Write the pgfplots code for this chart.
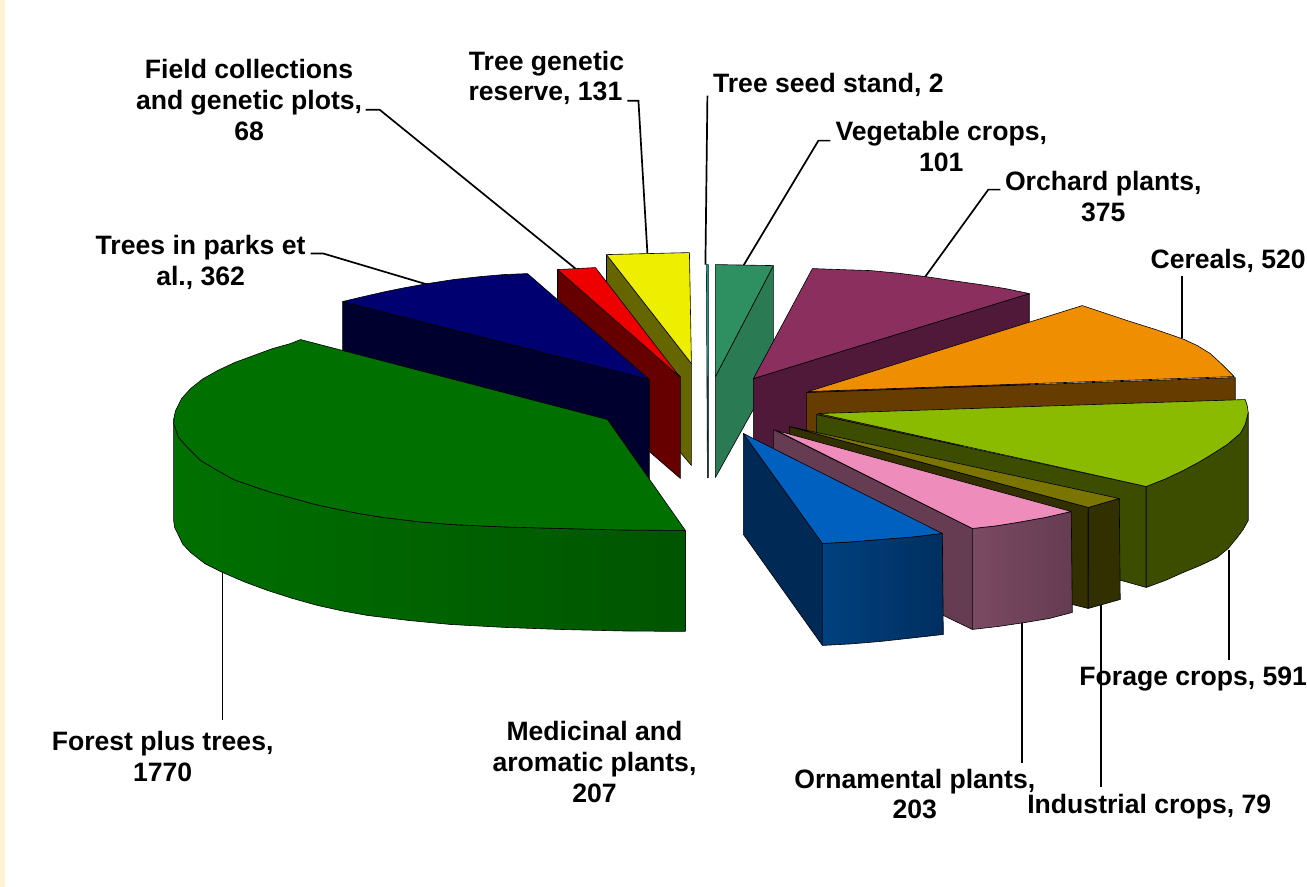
\documentclass[border=0pt]{standalone}
\usepackage{fontspec}
\setmainfont{Liberation Sans}
\usepackage{pgfplots}
\pgfplotsset{compat=1.18}
\definecolor{cream}{HTML}{FFF3D6}
\definecolor{gtop}{HTML}{007000}
\definecolor{gmid}{HTML}{006C00}
\definecolor{gdark}{HTML}{005500}
\definecolor{ntop}{HTML}{000070}
\definecolor{nside}{HTML}{00002E}
\definecolor{rtop}{HTML}{EE0000}
\definecolor{rside}{HTML}{660000}
\definecolor{ytop}{HTML}{EEEE00}
\definecolor{yside}{HTML}{666600}
\definecolor{stop}{HTML}{1F8F8F}
\definecolor{sside}{HTML}{1A5A5A}
\definecolor{vtop}{HTML}{2E9060}
\definecolor{vside}{HTML}{2A7A54}
\definecolor{ptop}{HTML}{8B2F5F}
\definecolor{pside}{HTML}{50193A}
\definecolor{otop}{HTML}{EE8E00}
\definecolor{oside}{HTML}{663C00}
\definecolor{ltop}{HTML}{8ABB00}
\definecolor{lside}{HTML}{3C4D00}
\definecolor{itop}{HTML}{7A7400}
\definecolor{iside}{HTML}{333000}
\definecolor{ktop}{HTML}{EE8CBC}
\definecolor{kside}{HTML}{663C52}
\definecolor{kleft}{HTML}{7A4A62}
\definecolor{btop}{HTML}{0060C0}
\definecolor{bside}{HTML}{002A55}
\definecolor{bleft}{HTML}{00417F}
\definecolor{bright}{HTML}{002F5F}
\tikzset{face/.style={draw=black,line width=0.3pt,line join=round},
 lead/.style={draw=black,line width=0.85pt},
 lab/.style={font=\fontsize{13.3}{15.25}\selectfont\bfseries,anchor=base,inner sep=0pt}}
\begin{document}
\begin{tikzpicture}
\begin{axis}[scale only axis,width=653.5pt,height=443.5pt,xmin=-0.7,xmax=1306.3,ymin=-0.7,ymax=886.3,y dir=reverse,axis lines=none,clip=false]
\addplot[fill=white,draw=none] coordinates {(-0.7,-0.7)(1306.3,-0.7)(1306.3,886.3)(-0.7,886.3)} -- cycle;
\addplot[fill=cream,draw=none] coordinates {(-0.7,-0.7)(4,-0.7)(4,886.3)(-0.7,886.3)} -- cycle;
% leaders
\addplot[lead] coordinates {(222,572)(222,720)};
\addplot[lead] coordinates {(1022,622)(1022,763)};
\addplot[lead] coordinates {(1101,601)(1101,787)};
\addplot[lead] coordinates {(1229,550)(1229,660)};
\addplot[lead] coordinates {(1182,275)(1182,337)};
\addplot[lead] coordinates {(1000,189)(988,189)(925,276)};
\addplot[lead] coordinates {(830,140)(818,140)(743,265)};
\addplot[lead] coordinates {(707,95)(705,264)};
\addplot[lead] coordinates {(627,100)(638,100)(647,253)};
\addplot[lead] coordinates {(365,109)(379,109)(575,268)};
\addplot[lead] coordinates {(310,253)(323,253)(427,284)};
% yellow
\addplot[face,fill=yside] coordinates {(606,254)(691,363)(691,465)(680,452)(606,357)} -- cycle;
\addplot[face,fill=ytop] coordinates {(606,254)(689,252)(691,363)} -- cycle;
% red
\addplot[face,fill=rside] coordinates {(557,269)(680,376)(680,478)(650,452)(557,372)} -- cycle;
\addplot[face,fill=rtop] coordinates {(557,269)(595,267)(679,376)} -- cycle;
% navy
\addplot[face,fill=nside] coordinates {(342,301)(649,379)(649,482)(600,440)(342,360)} -- cycle;
\addplot[face,fill=ntop] coordinates {(342,301)(363,296)(385,291)(405,287)(427,283)(453,279)(480,276)(503,274)(527,273)(649,379)} -- cycle;
% forest
\addplot[face,left color=gtop,middle color=gmid,right color=gdark] coordinates {(173,418)(173,520)(174,527)(177,533)(182,543.5)(190,552)(204,563)(222,572)(244,581.5)(267,590)(292,598)(317,605)(342,610.5)(367,615)(408,620)(450,624)(505,627)(560,629)(622,630.5)(685,631)(685,530)(622,529.5)(560,528)(505,526.5)(450,524)(416,521)(383,517)(358,513)(333,508)(313,503.5)(293,498)(271,492)(250,485)(233,479)(217,470)(200,460)(187,447)(178,437)(173,423)} -- cycle;
\addplot[face,fill=gtop] coordinates {(607,419)(300,339)(290,343)(272,348)(253,355)(234,362)(217,370)(202,378.5)(190,388)(181,398)(175,410)(173.5,416)(173,423)(178,437)(187,447)(200,460)(217,470)(233,479)(250,485)(271,492)(293,498)(313,503.5)(333,508)(358,513)(383,517)(416,521)(450,524)(505,526.5)(560,528)(622,529.5)(685,530)} -- cycle;
% seed stand
\addplot[face,fill=sside] coordinates {(706,264)(708,264)(708,477)(707,477)} -- cycle;
\addplot[draw=none,fill=stop] coordinates {(706,264)(708,264)(708,375)(707,375)} -- cycle;
% vegetable
\addplot[face,fill=vside] coordinates {(773,265)(715,376)(715,477)(773,373)} -- cycle;
\addplot[face,fill=vtop] coordinates {(715,264)(773,265)(715,376)} -- cycle;
% purple
\addplot[face,fill=pside] coordinates {(753,378)(1029,293)(1029,395)(753,480)} -- cycle;
\addplot[face,fill=ptop] coordinates {(753,378)(812,268)(840,269)(870,270)(897,272.5)(925,276)(952,280)(980,284)(1005,288)(1029,293)} -- cycle;
% orange
\addplot[face,fill=oside] coordinates {(806,392)(1235,377)(1235,400)(806,470)} -- cycle;
\addplot[face,fill=otop] coordinates {(808,391)(1082,305)(1106,313)(1130,321)(1157,329.5)(1183,338.5)(1197,345)(1210,353)(1222,364)(1234,376)} -- cycle;
% lime
\addplot[face,fill=lside] coordinates {(816,414)(1146,486)(1146,587)(1121,580)(816,515)} -- cycle;
\addplot[face,fill=lside] coordinates {(1146,486)(1146,587)(1165,580)(1183,572)(1200,565)(1217,557)(1228,548)(1237,537)(1243,529)(1248,520)(1248,412)(1245,424)(1240,433)(1227,444)(1213,453)(1198,462)(1183,470)(1165,478.5)} -- cycle;
\addplot[face,fill=ltop] coordinates {(818,413)(1245,399)(1247,405)(1248,412)(1245,424)(1240,433)(1227,444)(1213,453)(1198,462)(1183,470)(1165,478.5)(1146,486)} -- cycle;
% industrial
\addplot[face,fill=iside] coordinates {(789,426)(1088,507)(1088,608)(1072,604)(789,527)} -- cycle;
\addplot[face,fill=iside] coordinates {(1088,507)(1119,498)(1120,599)(1088,608)} -- cycle;
\addplot[face,fill=itop] coordinates {(789,426)(1119,498)(1088,507)} -- cycle;
% ornamental
\addplot[face,fill=kside] coordinates {(773,429)(972,528)(972,629)(943,615)(773,530)} -- cycle;
\addplot[face,left color=kleft,right color=kside] coordinates {(972,528)(995,525.5)(1017,522)(1045,517)(1071,511)(1072,612)(1049,618)(1025,622)(998,626)(972,629)} -- cycle;
\addplot[face,fill=ktop] coordinates {(776,430)(1071,511)(1045,517)(1017,522)(995,525.5)(972,528)} -- cycle;
% medicinal
\addplot[face,fill=bside] coordinates {(743,433)(822,543)(822,645)(743,534)} -- cycle;
\addplot[face,left color=bleft,right color=bright] coordinates {(822,543)(850,541.5)(880,539)(912,536.5)(942,533)(943,634)(912,637.5)(880,641)(850,643.5)(822,645)} -- cycle;
\addplot[face,fill=btop] coordinates {(743,433)(942,533)(912,536.5)(880,539)(850,541.5)(822,543)} -- cycle;
% labels
\node[lab] at (axis cs:248.5,78) {Field collections};
\node[lab] at (axis cs:248.5,109) {and genetic plots,};
\node[lab] at (axis cs:248.5,140) {68};
\node[lab] at (axis cs:546,70) {Tree genetic};
\node[lab] at (axis cs:545,100) {reserve, 131};
\node[lab] at (axis cs:828,92) {Tree seed stand, 2};
\node[lab] at (axis cs:941,140) {Vegetable crops,};
\node[lab] at (axis cs:941,171) {101};
\node[lab] at (axis cs:1103,190) {Orchard plants,};
\node[lab] at (axis cs:1103,221) {375};
\node[lab] at (axis cs:1228,268) {Cereals, 520};
\node[lab] at (axis cs:200,254) {Trees in parks et};
\node[lab] at (axis cs:200,285) {al., 362};
\node[lab] at (axis cs:162,750) {Forest plus trees,};
\node[lab] at (axis cs:162,781) {1770};
\node[lab] at (axis cs:594,740) {Medicinal and};
\node[lab] at (axis cs:594,771) {aromatic plants,};
\node[lab] at (axis cs:594,802) {207};
\node[lab] at (axis cs:914.5,788) {Ornamental plants,};
\node[lab] at (axis cs:914.5,818) {203};
\node[lab] at (axis cs:1149,813) {Industrial crops, 79};
\node[lab] at (axis cs:1193,685) {Forage crops, 591};
\end{axis}
\end{tikzpicture}
\end{document}
